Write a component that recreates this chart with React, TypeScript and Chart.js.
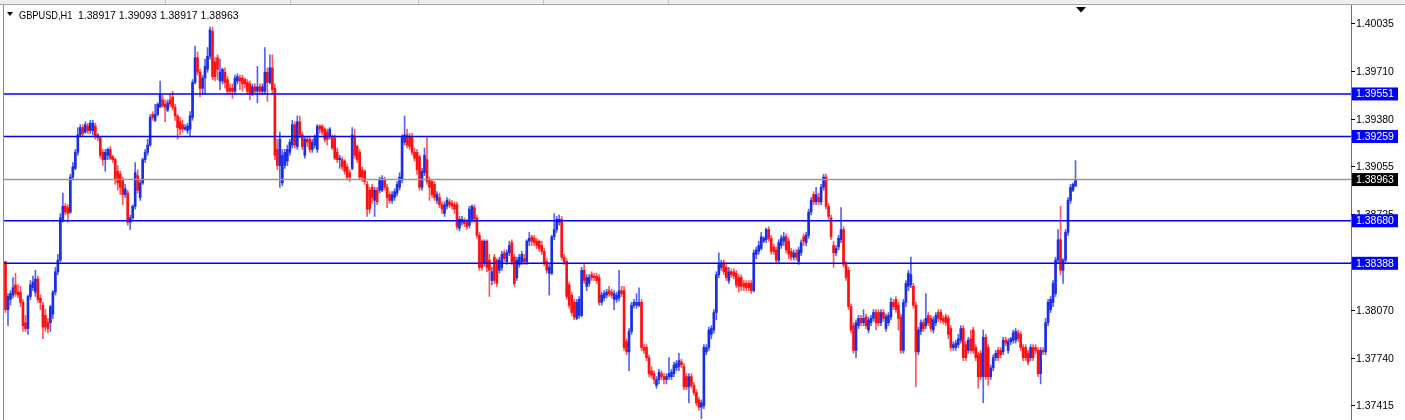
import React, { useEffect, useRef } from 'react';
import { Chart, registerables } from 'chart.js';

Chart.register(...registerables);

// Chart header / axis
const symbol = 'GBPUSD,H1';
const priceTicks = [1.40035, 1.3971, 1.3938, 1.39055, 1.38725, 1.384, 1.3807, 1.3774, 1.37415];
const levelLines = [1.39551, 1.39259, 1.3868, 1.38388];
const bidLine = 1.38963;

// H1 candles, oldest first
const opens = [
  1.3840, 1.3807, 1.3814, 1.3817, 1.3824, 1.3819, 1.3819, 1.3812, 1.3798, 1.3794, 1.3816, 1.3822,
  1.3819, 1.3828, 1.3815, 1.3810, 1.3803, 1.3798, 1.3798, 1.3804, 1.3819, 1.3833, 1.3841,
  1.3869, 1.3878, 1.3877, 1.3874, 1.3898, 1.3904, 1.3915, 1.3927, 1.3932, 1.3929,
  1.3933, 1.3930, 1.3930, 1.3933, 1.3927, 1.3925, 1.3915, 1.3910, 1.3913, 1.3917,
  1.3912, 1.3910, 1.3902, 1.3900, 1.3896, 1.3886, 1.3887, 1.3867, 1.3870, 1.3878, 1.3899,
  1.3884, 1.3894, 1.3910, 1.3915, 1.3920, 1.3941, 1.3937, 1.3941, 1.3946, 1.3951,
  1.3948, 1.3944, 1.3951, 1.3953, 1.3946, 1.3940, 1.3936, 1.3934, 1.3931, 1.3930,
  1.3931, 1.3939, 1.3963, 1.3980, 1.3970, 1.3959, 1.3966, 1.3972, 1.3981, 1.3998,
  1.3977, 1.3980, 1.3964, 1.3964, 1.3970, 1.3965, 1.3959, 1.3959, 1.3957, 1.3964,
  1.3966, 1.3966, 1.3965, 1.3963, 1.3962, 1.3956, 1.3960, 1.3957, 1.3960, 1.3957,
  1.3957, 1.3970, 1.3963, 1.3973, 1.3959, 1.3917, 1.3906, 1.3894, 1.3906, 1.3909,
  1.3915, 1.3920, 1.3934, 1.3919, 1.3936, 1.3927, 1.3913, 1.3924, 1.3924, 1.3917,
  1.3920, 1.3917, 1.3933, 1.3933, 1.3931, 1.3929, 1.3926, 1.3925, 1.3925, 1.3915,
  1.3910, 1.3910, 1.3909, 1.3905, 1.3901, 1.3904, 1.3926, 1.3919, 1.3915, 1.3903,
  1.3902, 1.3893, 1.3889, 1.3891, 1.3882, 1.3889, 1.3889, 1.3889, 1.3896, 1.3891,
  1.3886, 1.3882, 1.3884, 1.3887, 1.3891, 1.3896, 1.3922, 1.3927, 1.3926, 1.3926,
  1.3915, 1.3915, 1.3912, 1.3891, 1.3901, 1.3910, 1.3896, 1.3895, 1.3893, 1.3882,
  1.3884, 1.3879, 1.3873, 1.3878, 1.3881, 1.3880, 1.3879, 1.3879, 1.3863, 1.3867,
  1.3868, 1.3867, 1.3865, 1.3869, 1.3877, 1.3870, 1.3858, 1.3854, 1.3839, 1.3854,
  1.3841, 1.3827, 1.3843, 1.3841, 1.3834, 1.3836, 1.3846, 1.3840, 1.3846, 1.3853,
  1.3843, 1.3829, 1.3838, 1.3840, 1.3842, 1.3840, 1.3854, 1.3857, 1.3856, 1.3854,
  1.3854, 1.3851, 1.3847, 1.3840, 1.3832, 1.3832, 1.3857, 1.3862, 1.3867, 1.3869,
  1.3843, 1.3840, 1.3824, 1.3817, 1.3812, 1.3801, 1.3803, 1.3803, 1.3834, 1.3823,
  1.3825, 1.3831, 1.3830, 1.3830, 1.3829, 1.3812, 1.3815, 1.3817, 1.3820, 1.3819,
  1.3814, 1.3814, 1.3815, 1.3820, 1.3820, 1.3785, 1.3778, 1.3792, 1.3810, 1.3810,
  1.3810, 1.3812, 1.3781, 1.3781, 1.3774, 1.3765, 1.3763, 1.3755, 1.3759, 1.3763,
  1.3761, 1.3759, 1.3761, 1.3761, 1.3763, 1.3767, 1.3768, 1.3771, 1.3768,
  1.3761, 1.3754, 1.3761, 1.3755, 1.3750, 1.3745, 1.3740, 1.3741, 1.3778,
  1.3781, 1.3790, 1.3793, 1.3805, 1.3831, 1.3836, 1.3839, 1.3836, 1.3827, 1.3833,
  1.3833, 1.3832, 1.3829, 1.3829, 1.3825, 1.3825, 1.3825, 1.3825, 1.3820, 1.3845,
  1.3847, 1.3849, 1.3854, 1.3855, 1.3862, 1.3856, 1.3850, 1.3848, 1.3841, 1.3851,
  1.3854, 1.3857, 1.3854, 1.3847, 1.3843, 1.3846, 1.3840, 1.3846, 1.3857, 1.3853,
  1.3858, 1.3874, 1.3886, 1.3881, 1.3884, 1.3881, 1.3891, 1.3898, 1.3878, 1.3870,
  1.3851, 1.3846, 1.3850, 1.3855, 1.3862, 1.3838, 1.3834, 1.3809, 1.3796, 1.3779,
  1.3796, 1.3801, 1.3798, 1.3802, 1.3793, 1.3798, 1.3801, 1.3805, 1.3805, 1.3798,
  1.3805, 1.3794, 1.3798, 1.3802, 1.3812, 1.3814, 1.3810, 1.3802, 1.3779, 1.3812,
  1.3823, 1.3824, 1.3823, 1.3810, 1.3778, 1.3792, 1.3798, 1.3796, 1.3803, 1.3801,
  1.3793, 1.3798, 1.3805, 1.3805, 1.3801, 1.3802, 1.3801, 1.3794, 1.3781, 1.3781, 1.3783,
  1.3786, 1.3794, 1.3783, 1.3779, 1.3787, 1.3793, 1.3781, 1.3776, 1.3777, 1.3761,
  1.3788, 1.3781, 1.3761, 1.3767, 1.3774, 1.3779, 1.3779, 1.3778, 1.3786, 1.3779, 1.3785,
  1.3786, 1.3786, 1.3791, 1.3790, 1.3781, 1.3781, 1.3777, 1.3774, 1.3781, 1.3781,
  1.3779, 1.3763, 1.3779, 1.3778, 1.3798, 1.3807, 1.3812, 1.3818, 1.3841, 1.3855,
  1.3834, 1.3841, 1.3860, 1.3882, 1.3889, 1.38917,
];

const highs = [
  1.3840, 1.3818, 1.3820, 1.3829, 1.3832, 1.3824, 1.3823, 1.3814, 1.3803, 1.3817, 1.3827, 1.3830,
  1.3834, 1.3830, 1.3817, 1.3812, 1.3807, 1.3801, 1.3810, 1.3820, 1.3836, 1.3845, 1.3873,
  1.3887, 1.3880, 1.3879, 1.3900, 1.3908, 1.3917, 1.3932, 1.3934, 1.3934, 1.3936,
  1.3935, 1.3937, 1.3937, 1.3935, 1.3928, 1.3926, 1.3917, 1.3917, 1.3918, 1.3919,
  1.3913, 1.3911, 1.3906, 1.3902, 1.3898, 1.3893, 1.3889, 1.3872, 1.3879, 1.3908, 1.3903,
  1.3896, 1.3911, 1.3917, 1.3924, 1.3941, 1.3943, 1.3948, 1.3949, 1.3964, 1.3954,
  1.3951, 1.3951, 1.3955, 1.3957, 1.3948, 1.3941, 1.3939, 1.3937, 1.3934, 1.3935,
  1.3943, 1.3965, 1.3988, 1.3984, 1.3972, 1.3968, 1.3979, 1.3987, 1.4001, 1.4001,
  1.3980, 1.3982, 1.3979, 1.3973, 1.3973, 1.3967, 1.3962, 1.3962, 1.3968, 1.3969,
  1.3968, 1.3968, 1.3966, 1.3965, 1.3964, 1.3962, 1.3962, 1.3974, 1.3962, 1.3962,
  1.3987, 1.3973, 1.3982, 1.3982, 1.3962, 1.3924, 1.3929, 1.3917, 1.3917, 1.3920,
  1.3924, 1.3937, 1.3936, 1.3940, 1.3940, 1.3929, 1.3926, 1.3926, 1.3926, 1.3924,
  1.3927, 1.3934, 1.3934, 1.3934, 1.3932, 1.3931, 1.3932, 1.3927, 1.3927, 1.3918,
  1.3913, 1.3912, 1.3910, 1.3907, 1.3903, 1.3932, 1.3931, 1.3920, 1.3917, 1.3905,
  1.3903, 1.3895, 1.3891, 1.3893, 1.3891, 1.3891, 1.3898, 1.3899, 1.3898, 1.3893,
  1.3888, 1.3888, 1.3890, 1.3895, 1.3901, 1.3927, 1.3940, 1.3931, 1.3928, 1.3928,
  1.3918, 1.3917, 1.3913, 1.3904, 1.3918, 1.3926, 1.3898, 1.3896, 1.3895, 1.3888,
  1.3887, 1.3881, 1.3881, 1.3884, 1.3883, 1.3882, 1.3881, 1.3881, 1.3871, 1.3871,
  1.3870, 1.3869, 1.3878, 1.3879, 1.3879, 1.3872, 1.3860, 1.3855, 1.3855, 1.3855,
  1.3845, 1.3836, 1.3845, 1.3842, 1.3843, 1.3847, 1.3848, 1.3848, 1.3854, 1.3855,
  1.3845, 1.3843, 1.3845, 1.3847, 1.3845, 1.3855, 1.3860, 1.3858, 1.3858, 1.3856,
  1.3855, 1.3854, 1.3849, 1.3842, 1.3838, 1.3858, 1.3873, 1.3871, 1.3872, 1.3871,
  1.3845, 1.3842, 1.3826, 1.3819, 1.3814, 1.3814, 1.3816, 1.3836, 1.3838, 1.3831,
  1.3831, 1.3833, 1.3832, 1.3832, 1.3831, 1.3819, 1.3820, 1.3821, 1.3823, 1.3821,
  1.3820, 1.3819, 1.3834, 1.3823, 1.3823, 1.3787, 1.3794, 1.3812, 1.3814, 1.3818,
  1.3822, 1.3814, 1.3783, 1.3783, 1.3776, 1.3768, 1.3765, 1.3761, 1.3766, 1.3765,
  1.3763, 1.3763, 1.3774, 1.3766, 1.3771, 1.3772, 1.3777, 1.3773, 1.3770,
  1.3763, 1.3763, 1.3763, 1.3757, 1.3752, 1.3747, 1.3745, 1.3783, 1.3783,
  1.3795, 1.3796, 1.3807, 1.3833, 1.3846, 1.3841, 1.3841, 1.3838, 1.3836, 1.3835,
  1.3835, 1.3834, 1.3831, 1.3831, 1.3827, 1.3827, 1.3827, 1.3827, 1.3848, 1.3850,
  1.3854, 1.3860, 1.3857, 1.3863, 1.3864, 1.3858, 1.3852, 1.3850, 1.3855, 1.3858,
  1.3860, 1.3859, 1.3856, 1.3849, 1.3848, 1.3848, 1.3850, 1.3855, 1.3859, 1.3860,
  1.3876, 1.3884, 1.3888, 1.3891, 1.3887, 1.3893, 1.3900, 1.3900, 1.3880, 1.3872,
  1.3854, 1.3851, 1.3858, 1.3877, 1.3864, 1.3840, 1.3836, 1.3811, 1.3798, 1.3800,
  1.3803, 1.3803, 1.3807, 1.3804, 1.3802, 1.3803, 1.3807, 1.3807, 1.3807, 1.3807,
  1.3807, 1.3804, 1.3805, 1.3815, 1.3814, 1.3816, 1.3812, 1.3804, 1.3814, 1.3827,
  1.3834, 1.3843, 1.3825, 1.3812, 1.3795, 1.3800, 1.3800, 1.3818, 1.3805, 1.3803,
  1.3802, 1.3805, 1.3807, 1.3807, 1.3803, 1.3804, 1.3803, 1.3796, 1.3785, 1.3786, 1.3790,
  1.3796, 1.3796, 1.3785, 1.3788, 1.3793, 1.3795, 1.3783, 1.3778, 1.3779, 1.3793,
  1.3790, 1.3783, 1.3769, 1.3776, 1.3779, 1.3781, 1.3781, 1.3788, 1.3788, 1.3787, 1.3788,
  1.3793, 1.3794, 1.3793, 1.3792, 1.3783, 1.3783, 1.3779, 1.3783, 1.3783, 1.3783,
  1.3781, 1.3781, 1.3781, 1.3801, 1.3814, 1.3816, 1.3827, 1.3843, 1.3862, 1.3878,
  1.3842, 1.3862, 1.3884, 1.3893, 1.3894, 1.39093,
];

const lows = [
  1.3805, 1.3796, 1.3810, 1.3815, 1.3816, 1.3815, 1.3809, 1.3792, 1.3792, 1.3790, 1.3814, 1.3820,
  1.3816, 1.3812, 1.3807, 1.3787, 1.3792, 1.3791, 1.3792, 1.3801, 1.3817, 1.3831, 1.3840,
  1.3867, 1.3872, 1.3867, 1.3873, 1.3896, 1.3903, 1.3913, 1.3926, 1.3926, 1.3928,
  1.3928, 1.3928, 1.3927, 1.3924, 1.3923, 1.3911, 1.3906, 1.3902, 1.3910, 1.3910,
  1.3908, 1.3893, 1.3889, 1.3886, 1.3879, 1.3884, 1.3865, 1.3862, 1.3869, 1.3876, 1.3887,
  1.3882, 1.3893, 1.3908, 1.3913, 1.3919, 1.3937, 1.3936, 1.3940, 1.3946, 1.3946,
  1.3936, 1.3943, 1.3946, 1.3944, 1.3937, 1.3924, 1.3927, 1.3929, 1.3930, 1.3928,
  1.3926, 1.3937, 1.3962, 1.3968, 1.3953, 1.3955, 1.3955, 1.3970, 1.3979, 1.3965,
  1.3964, 1.3965, 1.3958, 1.3962, 1.3959, 1.3955, 1.3955, 1.3952, 1.3955, 1.3962,
  1.3958, 1.3957, 1.3959, 1.3955, 1.3951, 1.3954, 1.3955, 1.3949, 1.3955, 1.3955,
  1.3955, 1.3950, 1.3962, 1.3955, 1.3910, 1.3903, 1.3891, 1.3892, 1.3904, 1.3906,
  1.3913, 1.3918, 1.3918, 1.3917, 1.3925, 1.3917, 1.3911, 1.3919, 1.3915, 1.3915,
  1.3918, 1.3915, 1.3928, 1.3927, 1.3922, 1.3920, 1.3924, 1.3917, 1.3910, 1.3908,
  1.3904, 1.3903, 1.3900, 1.3896, 1.3895, 1.3903, 1.3911, 1.3908, 1.3896, 1.3895,
  1.3893, 1.3871, 1.3873, 1.3880, 1.3871, 1.3879, 1.3887, 1.3888, 1.3889, 1.3877,
  1.3880, 1.3880, 1.3882, 1.3885, 1.3889, 1.3894, 1.3920, 1.3918, 1.3917, 1.3913,
  1.3909, 1.3900, 1.3889, 1.3889, 1.3899, 1.3893, 1.3882, 1.3884, 1.3882, 1.3880,
  1.3877, 1.3873, 1.3871, 1.3876, 1.3877, 1.3876, 1.3873, 1.3862, 1.3861, 1.3865,
  1.3864, 1.3862, 1.3863, 1.3867, 1.3867, 1.3856, 1.3834, 1.3834, 1.3837, 1.3833,
  1.3816, 1.3824, 1.3825, 1.3823, 1.3832, 1.3834, 1.3840, 1.3838, 1.3844, 1.3838,
  1.3823, 1.3827, 1.3836, 1.3838, 1.3838, 1.3838, 1.3851, 1.3851, 1.3851, 1.3849,
  1.3847, 1.3845, 1.3837, 1.3832, 1.3817, 1.3831, 1.3855, 1.3860, 1.3865, 1.3841,
  1.3838, 1.3814, 1.3808, 1.3803, 1.3800, 1.3800, 1.3801, 1.3802, 1.3825, 1.3820,
  1.3823, 1.3827, 1.3827, 1.3825, 1.3810, 1.3810, 1.3813, 1.3815, 1.3816, 1.3815,
  1.3807, 1.3812, 1.3813, 1.3816, 1.3779, 1.3776, 1.3765, 1.3790, 1.3808, 1.3808,
  1.3809, 1.3779, 1.3777, 1.3772, 1.3761, 1.3760, 1.3756, 1.3753, 1.3756, 1.3759,
  1.3756, 1.3756, 1.3759, 1.3759, 1.3761, 1.3765, 1.3765, 1.3767, 1.3752,
  1.3752, 1.3743, 1.3753, 1.3748, 1.3741, 1.3738, 1.3732, 1.3739, 1.3776,
  1.3779, 1.3787, 1.3791, 1.3800, 1.3829, 1.3834, 1.3831, 1.3827, 1.3825, 1.3829,
  1.3828, 1.3822, 1.3819, 1.3820, 1.3820, 1.3820, 1.3820, 1.3818, 1.3819, 1.3842,
  1.3845, 1.3848, 1.3853, 1.3853, 1.3854, 1.3845, 1.3845, 1.3839, 1.3839, 1.3849,
  1.3851, 1.3846, 1.3842, 1.3841, 1.3841, 1.3841, 1.3838, 1.3844, 1.3851, 1.3851,
  1.3856, 1.3872, 1.3879, 1.3879, 1.3879, 1.3879, 1.3889, 1.3876, 1.3869, 1.3855,
  1.3836, 1.3844, 1.3848, 1.3853, 1.3836, 1.3827, 1.3807, 1.3791, 1.3777, 1.3774,
  1.3794, 1.3796, 1.3796, 1.3794, 1.3791, 1.3796, 1.3799, 1.3793, 1.3796, 1.3796,
  1.3799, 1.3792, 1.3796, 1.3800, 1.3807, 1.3805, 1.3793, 1.3777, 1.3777, 1.3809,
  1.3820, 1.3822, 1.3808, 1.3754, 1.3776, 1.3790, 1.3792, 1.3794, 1.3796, 1.3792,
  1.3791, 1.3796, 1.3799, 1.3798, 1.3797, 1.3796, 1.3787, 1.3779, 1.3779, 1.3779, 1.3781,
  1.3784, 1.3772, 1.3772, 1.3777, 1.3777, 1.3777, 1.3772, 1.3753, 1.3759, 1.3743,
  1.3759, 1.3755, 1.3759, 1.3765, 1.3772, 1.3772, 1.3774, 1.3776, 1.3782, 1.3777, 1.3783,
  1.3784, 1.3784, 1.3785, 1.3779, 1.3772, 1.3772, 1.3769, 1.3772, 1.3772, 1.3777,
  1.3761, 1.3756, 1.3776, 1.3776, 1.3796, 1.3805, 1.3809, 1.3816, 1.3839, 1.3831,
  1.3825, 1.3839, 1.3858, 1.3880, 1.3888, 1.38917,
];

const closes = [
  1.3807, 1.3816, 1.3818, 1.3822, 1.3818, 1.3817, 1.3812, 1.3796, 1.3794, 1.3816, 1.3824, 1.3826,
  1.3828, 1.3814, 1.3812, 1.3795, 1.3795, 1.3794, 1.3809, 1.3819, 1.3833, 1.3841, 1.3870,
  1.3878, 1.3874, 1.3873, 1.3898, 1.3905, 1.3915, 1.3927, 1.3932, 1.3928, 1.3934,
  1.3930, 1.3935, 1.3935, 1.3926, 1.3925, 1.3913, 1.3910, 1.3915, 1.3917, 1.3911,
  1.3910, 1.3896, 1.3894, 1.3891, 1.3886, 1.3890, 1.3867, 1.3870, 1.3878, 1.3901, 1.3889,
  1.3894, 1.3910, 1.3915, 1.3920, 1.3939, 1.3939, 1.3941, 1.3948, 1.3955, 1.3947,
  1.3946, 1.3949, 1.3948, 1.3946, 1.3940, 1.3932, 1.3931, 1.3931, 1.3932, 1.3933,
  1.3940, 1.3963, 1.3980, 1.3970, 1.3959, 1.3966, 1.3974, 1.3981, 1.3999, 1.3967,
  1.3967, 1.3972, 1.3970, 1.3972, 1.3963, 1.3957, 1.3957, 1.3957, 1.3966, 1.3967,
  1.3964, 1.3962, 1.3962, 1.3957, 1.3955, 1.3960, 1.3957, 1.3960, 1.3957, 1.3960,
  1.3970, 1.3963, 1.3973, 1.3958, 1.3913, 1.3906, 1.3924, 1.3913, 1.3915, 1.3917,
  1.3922, 1.3934, 1.3920, 1.3936, 1.3927, 1.3919, 1.3924, 1.3922, 1.3917, 1.3922,
  1.3925, 1.3933, 1.3931, 1.3929, 1.3924, 1.3924, 1.3931, 1.3918, 1.3911, 1.3910,
  1.3911, 1.3905, 1.3902, 1.3898, 1.3898, 1.3927, 1.3913, 1.3910, 1.3898, 1.3898,
  1.3895, 1.3876, 1.3876, 1.3884, 1.3889, 1.3881, 1.3896, 1.3897, 1.3891, 1.3884,
  1.3882, 1.3886, 1.3888, 1.3893, 1.3898, 1.3925, 1.3927, 1.3920, 1.3919, 1.3915,
  1.3911, 1.3903, 1.3891, 1.3902, 1.3913, 1.3895, 1.3891, 1.3886, 1.3884, 1.3886,
  1.3879, 1.3876, 1.3879, 1.3882, 1.3879, 1.3878, 1.3876, 1.3864, 1.3869, 1.3869,
  1.3866, 1.3864, 1.3876, 1.3878, 1.3869, 1.3858, 1.3836, 1.3836, 1.3854, 1.3836,
  1.3834, 1.3833, 1.3827, 1.3825, 1.3841, 1.3845, 1.3842, 1.3846, 1.3851, 1.3840,
  1.3825, 1.3841, 1.3843, 1.3845, 1.3840, 1.3854, 1.3856, 1.3854, 1.3853, 1.3851,
  1.3849, 1.3847, 1.3839, 1.3834, 1.3836, 1.3857, 1.3862, 1.3869, 1.3869, 1.3843,
  1.3840, 1.3816, 1.3810, 1.3805, 1.3802, 1.3812, 1.3814, 1.3834, 1.3827, 1.3829,
  1.3829, 1.3829, 1.3829, 1.3827, 1.3812, 1.3817, 1.3818, 1.3819, 1.3818, 1.3817,
  1.3818, 1.3817, 1.3820, 1.3818, 1.3781, 1.3778, 1.3792, 1.3810, 1.3812, 1.3812,
  1.3812, 1.3781, 1.3779, 1.3774, 1.3763, 1.3762, 1.3759, 1.3759, 1.3764, 1.3761,
  1.3759, 1.3761, 1.3763, 1.3764, 1.3769, 1.3770, 1.3772, 1.3769, 1.3754,
  1.3754, 1.3761, 1.3755, 1.3750, 1.3743, 1.3740, 1.3743, 1.3781, 1.3781,
  1.3793, 1.3794, 1.3805, 1.3831, 1.3838, 1.3838, 1.3833, 1.3829, 1.3833, 1.3831,
  1.3830, 1.3824, 1.3823, 1.3823, 1.3823, 1.3822, 1.3822, 1.3820, 1.3846, 1.3848,
  1.3851, 1.3857, 1.3856, 1.3862, 1.3856, 1.3847, 1.3847, 1.3841, 1.3853, 1.3856,
  1.3857, 1.3848, 1.3845, 1.3843, 1.3846, 1.3843, 1.3848, 1.3853, 1.3854, 1.3858,
  1.3874, 1.3882, 1.3881, 1.3886, 1.3881, 1.3891, 1.3898, 1.3878, 1.3871, 1.3857,
  1.3846, 1.3849, 1.3856, 1.3862, 1.3838, 1.3829, 1.3809, 1.3793, 1.3779, 1.3798,
  1.3801, 1.3798, 1.3801, 1.3796, 1.3800, 1.3801, 1.3805, 1.3798, 1.3798, 1.3805,
  1.3801, 1.3802, 1.3803, 1.3812, 1.3809, 1.3807, 1.3801, 1.3779, 1.3812, 1.3825,
  1.3832, 1.3831, 1.3810, 1.3778, 1.3793, 1.3798, 1.3794, 1.3801, 1.3798, 1.3794,
  1.3800, 1.3803, 1.3801, 1.3800, 1.3799, 1.3798, 1.3790, 1.3781, 1.3783, 1.3784, 1.3787,
  1.3794, 1.3774, 1.3774, 1.3786, 1.3779, 1.3779, 1.3774, 1.3761, 1.3761, 1.3788,
  1.3761, 1.3761, 1.3767, 1.3774, 1.3777, 1.3774, 1.3776, 1.3786, 1.3784, 1.3785, 1.3787,
  1.3791, 1.3792, 1.3787, 1.3781, 1.3774, 1.3774, 1.3771, 1.3781, 1.3774, 1.3779,
  1.3763, 1.3779, 1.3778, 1.3798, 1.3812, 1.3814, 1.3825, 1.3841, 1.3855, 1.3834,
  1.3841, 1.3860, 1.3882, 1.3891, 1.3893, 1.38963,
];

const UP = '#1a2ee4';
const DOWN = '#ff1010';
const UP_WICK = 'rgba(40, 60, 235, 0.8)';
const DOWN_WICK = 'rgba(255, 30, 30, 0.75)';
const FONT = "10.5px 'Liberation Sans', Arial, sans-serif";

const fmt = (v: number) => v.toFixed(5);

// MT4 look: top strip, frame, level lines with price tags, right price scale, header
const terminalPlugin = {
  id: 'terminal',
  beforeDraw(chart: any) {
    const { ctx, width } = chart;
    ctx.save();
    ctx.fillStyle = '#eeeeee';
    ctx.fillRect(0, 0, width, 4);
    ctx.strokeStyle = '#c6c6c6';
    ctx.lineWidth = 1;
    [165, 290, 418, 543, 668].forEach((x) => {
      ctx.beginPath();
      ctx.moveTo(x + 0.5, 0);
      ctx.lineTo(x + 0.5, 4);
      ctx.stroke();
    });
    ctx.strokeStyle = '#a6a6a6';
    ctx.beginPath();
    ctx.moveTo(0, 4.5);
    ctx.lineTo(width, 4.5);
    ctx.stroke();
    ctx.restore();
  },
  afterDatasetsDraw(chart: any) {
    const { ctx, chartArea } = chart;
    const y = chart.scales.y;
    ctx.save();
    ctx.strokeStyle = '#0000ff';
    ctx.lineWidth = 1.6;
    levelLines.forEach((v) => {
      const py = y.getPixelForValue(v);
      ctx.beginPath();
      ctx.moveTo(chartArea.left, py);
      ctx.lineTo(chartArea.right, py);
      ctx.stroke();
    });
    ctx.strokeStyle = '#989898';
    ctx.lineWidth = 1.5;
    const by = y.getPixelForValue(bidLine);
    ctx.beginPath();
    ctx.moveTo(chartArea.left, by);
    ctx.lineTo(chartArea.right, by);
    ctx.stroke();
    ctx.restore();
  },
  afterDraw(chart: any) {
    const { ctx, chartArea, height } = chart;
    const y = chart.scales.y;
    ctx.save();

    // frame
    ctx.strokeStyle = '#8c8c8c';
    ctx.lineWidth = 1;
    ctx.beginPath();
    ctx.moveTo(3.5, 5);
    ctx.lineTo(3.5, height);
    ctx.stroke();
    ctx.strokeStyle = '#6e6e6e';
    ctx.beginPath();
    ctx.moveTo(chartArea.right + 0.5, 5);
    ctx.lineTo(chartArea.right + 0.5, height);
    ctx.stroke();

    // price scale
    ctx.font = FONT;
    ctx.textBaseline = 'middle';
    ctx.textAlign = 'left';
    ctx.fillStyle = '#000000';
    ctx.strokeStyle = '#000000';
    priceTicks.forEach((t) => {
      const py = Math.round(y.getPixelForValue(t)) + 0.5;
      ctx.beginPath();
      ctx.moveTo(chartArea.right, py);
      ctx.lineTo(chartArea.right + 4, py);
      ctx.stroke();
      ctx.fillText(fmt(t), chartArea.right + 5, py + 0.5);
    });

    // price tags
    const tag = (v: number, bg: string) => {
      const py = y.getPixelForValue(v);
      ctx.fillStyle = bg;
      ctx.fillRect(chartArea.right + 1, py - 6.5, 46, 13);
      ctx.fillStyle = '#ffffff';
      ctx.fillText(fmt(v), chartArea.right + 5, py + 0.5);
    };
    levelLines.forEach((v) => tag(v, '#0000ff'));
    tag(bidLine, '#000000');

    // header
    const n = closes.length - 1;
    ctx.fillStyle = '#000000';
    ctx.beginPath();
    ctx.moveTo(7, 12);
    ctx.lineTo(13, 12);
    ctx.lineTo(10, 16);
    ctx.closePath();
    ctx.fill();
    ctx.textBaseline = 'alphabetic';
    ctx.save();
    ctx.translate(19, 18.5);
    ctx.scale(0.88, 1);
    ctx.fillText(symbol, 0, 0);
    ctx.restore();
    ctx.fillText(
      `${fmt(opens[n])} ${fmt(highs[n])} ${fmt(lows[n])} ${fmt(closes[n])}`,
      78,
      18.5
    );

    // chart shift marker
    ctx.beginPath();
    ctx.moveTo(1076, 7);
    ctx.lineTo(1086, 7);
    ctx.lineTo(1081, 12.5);
    ctx.closePath();
    ctx.fill();

    ctx.restore();
  },
};

const App: React.FC = () => {
  const canvasRef = useRef<HTMLCanvasElement>(null);
  const chartRef = useRef<Chart | null>(null);

  useEffect(() => {
    document.body.style.margin = '0';
    if (!canvasRef.current) return;
    if (chartRef.current) chartRef.current.destroy();

    const isUp = opens.map((o, i) => closes[i] >= o);

    chartRef.current = new Chart(canvasRef.current, {
      type: 'bar',
      data: {
        datasets: [
          {
            label: 'range',
            data: opens.map((_, i) => ({ x: i, y: [lows[i], highs[i]] })) as any,
            backgroundColor: isUp.map((u) => (u ? UP_WICK : DOWN_WICK)),
            barThickness: 1,
            minBarLength: 1,
            grouped: false,
            order: 2,
          },
          {
            label: 'body',
            data: opens.map((o, i) => ({ x: i, y: [o, closes[i]] })) as any,
            backgroundColor: isUp.map((u) => (u ? UP : DOWN)),
            barThickness: 2,
            minBarLength: 1,
            grouped: false,
            order: 1,
          },
        ],
      },
      options: {
        animation: false,
        responsive: false,
        layout: { padding: { left: 4, right: 54, top: 6, bottom: 0 } },
        scales: {
          x: { type: 'linear', display: false, offset: false, min: -0.6, max: 539.45 },
          y: { type: 'linear', display: false, min: 1.37312, max: 1.40155 },
        },
        plugins: {
          legend: { display: false },
          tooltip: { enabled: false },
        },
      },
      plugins: [terminalPlugin],
    });

    return () => {
      if (chartRef.current) {
        chartRef.current.destroy();
        chartRef.current = null;
      }
    };
  }, []);

  return (
    <div style={{ width: 1405, height: 420, background: '#ffffff' }}>
      <canvas ref={canvasRef} width={1405} height={420} style={{ display: 'block' }} />
    </div>
  );
};

export default App;
